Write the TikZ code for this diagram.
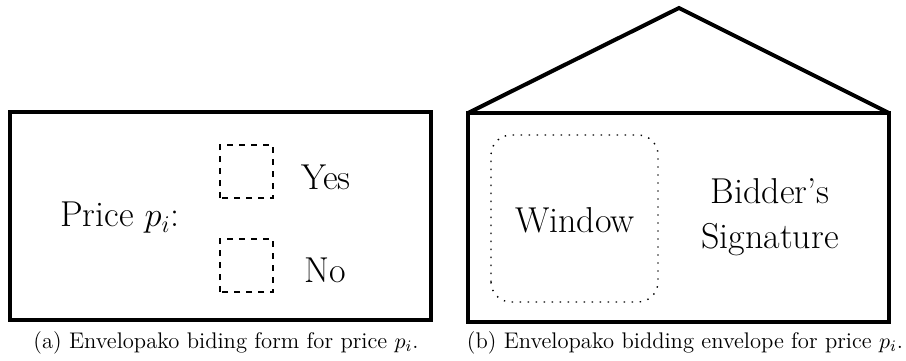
\documentclass[tikz,border=0pt]{standalone}
\usepackage{tikz}
\usetikzlibrary{positioning,calc}
\tikzset{>=latex}
\tikzstyle{frame}=[line width=2.4pt]
\tikzstyle{tickbox}=[dashed, line width=0.6pt]
\tikzstyle{label}=[font=\fontsize{18}{22.5}\selectfont]
\tikzstyle{caption}=[font=\fontsize{11.3}{13.6}\selectfont]

\begin{document}
\begin{tikzpicture}[x=0.5pt, y=0.5pt]
    \useasboundingbox (0,0) rectangle (906,360);

    % biding form
    \begin{scope}
    \draw[frame] (10,40) rectangle (431,248);
    \node[label] (price) at (120,142) {Price $p_i$:};
    \draw[tickbox] (220,162) rectangle (273,215);
    \draw[tickbox] (220,68) rectangle (273,121);
    \node[label] (yes) at (326,183) {Yes};
    \node[label] (no) at (325,90) {No};
    \node[caption] (capa) at (226,17) {(a) Envelopako biding form for price $p_i$.};
    \end{scope}

    % bidding envelope
    \begin{scope}
    \draw[frame] (468,38) rectangle (889,247);
    \draw[line width=2pt, line join=miter] (468,247) -- (679,352) -- (889,247);
    \draw[line width=0.7pt, dash pattern=on 0.7pt off 3.3pt, rounded corners=10pt] (491,58) rectangle (658,225);
    \node[label] (window) at (575,140) {Window};
    \node[label, align=center] (sign) at (770,143) {Bidder's\\Signature};
    \node[caption] (capb) at (685,17) {(b) Envelopako bidding envelope for price $p_i$.};
    \end{scope}
\end{tikzpicture}
\end{document}
